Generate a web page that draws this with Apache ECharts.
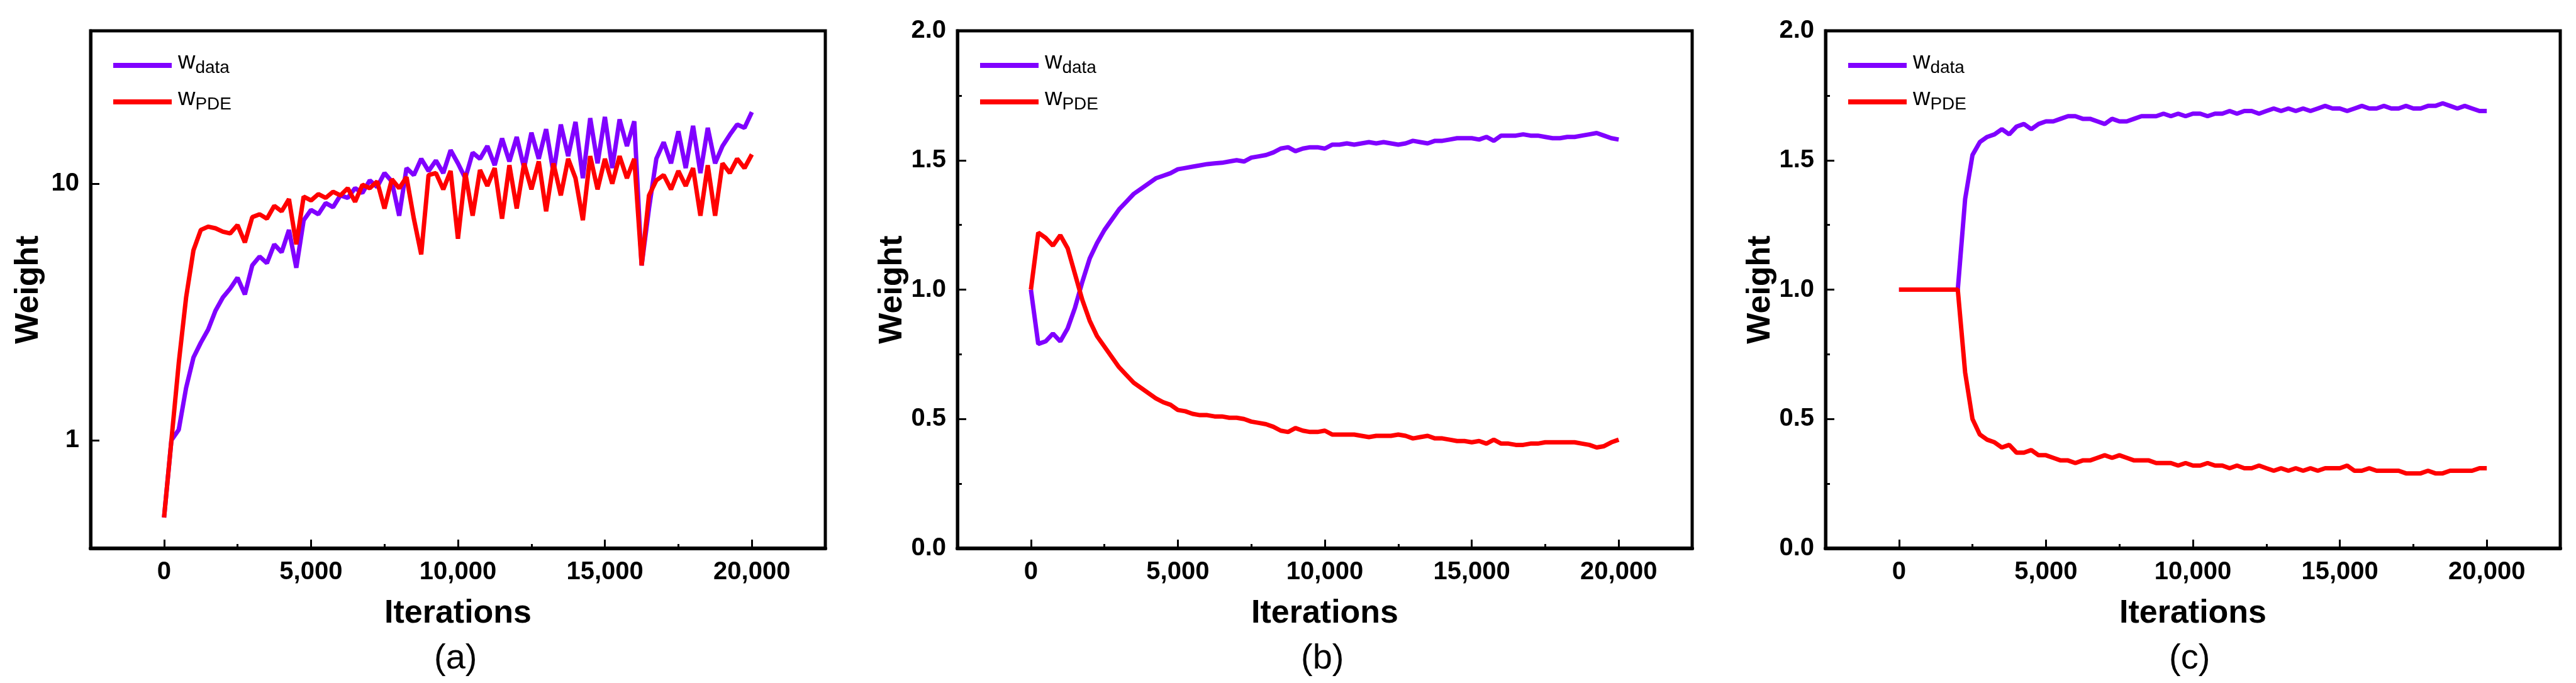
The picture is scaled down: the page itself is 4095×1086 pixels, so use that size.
<!DOCTYPE html>
<html>
<head>
<meta charset="utf-8">
<script src="https://cdn.jsdelivr.net/npm/echarts@6/dist/echarts.min.js"></script>
<style>
html,body{margin:0;padding:0;background:#fff}
#main{width:4095px;height:1086px}
</style>
</head>
<body>
<div id="main"></div>
<script>
// iterations, sampled every 250 steps
var iterations = [];
for (var i = 0; i <= 80; i++) iterations.push(i * 250);
var majorTicks = [0, 5000, 10000, 15000, 20000];
var minorTicks = [2500, 7500, 12500, 17500];

// (a) self-adaptive weights, log scale
var aData = [0.5,1.0,1.1,1.6,2.1,2.4,2.7,3.2,3.6,3.9,4.3,3.7,4.8,5.2,4.9,5.8,5.4,6.6,4.7,7.2,
  7.9,7.6,8.4,8.1,9.0,8.8,9.6,9.2,10.3,9.7,11.0,10.2,7.5,11.5,10.8,12.5,11.2,12.3,11.0,13.5,
  12.0,10.5,13.2,12.5,14.0,11.8,15.0,12.2,15.2,11.5,15.8,12.5,16.3,11.0,17.0,12.8,17.4,10.5,18.0,12.0,
  18.2,11.5,17.8,14.0,17.5,4.8,8.0,12.5,14.5,12.0,16.0,11.5,16.8,11.0,16.5,12.0,14.0,15.5,17.0,16.5,19.0];
var aPDE = [0.5,1.0,2.0,3.6,5.5,6.6,6.8,6.7,6.5,6.4,6.9,5.9,7.4,7.6,7.3,8.2,7.8,8.7,5.8,8.9,
  8.6,9.1,8.8,9.3,9.0,9.6,8.5,9.9,9.6,10.2,8.0,10.4,9.6,10.6,7.3,5.3,10.8,11.0,9.5,11.2,
  6.1,11.0,7.5,11.3,9.8,11.5,7.3,11.8,8.0,12.0,9.5,12.2,7.8,12.0,9.0,12.5,10.5,7.2,12.8,9.5,
  12.5,10.0,12.8,10.5,12.5,4.8,9.0,10.3,10.8,9.5,11.2,9.8,11.5,7.5,11.8,7.5,12.0,11.0,12.5,11.5,13.0];

// (b)
var bData = [1.0,0.79,0.80,0.83,0.80,0.85,0.93,1.03,1.12,1.18,1.23,1.27,1.31,1.34,1.37,1.39,1.41,1.43,1.44,1.45,
  1.465,1.47,1.475,1.48,1.485,1.488,1.49,1.495,1.50,1.495,1.51,1.515,1.52,1.53,1.545,1.55,1.535,1.545,1.55,1.55,
  1.545,1.56,1.56,1.565,1.56,1.565,1.57,1.565,1.57,1.565,1.56,1.565,1.575,1.57,1.565,1.575,1.575,1.58,1.585,1.585,
  1.585,1.58,1.59,1.575,1.595,1.595,1.595,1.6,1.595,1.595,1.59,1.585,1.585,1.59,1.59,1.595,1.6,1.605,1.595,1.585,1.58];
var bPDE = [1.0,1.22,1.20,1.17,1.21,1.16,1.06,0.96,0.88,0.82,0.78,0.74,0.70,0.67,0.64,0.62,0.60,0.58,0.565,0.555,
  0.535,0.53,0.52,0.515,0.515,0.51,0.51,0.505,0.505,0.50,0.49,0.485,0.48,0.47,0.455,0.45,0.465,0.455,0.45,0.45,
  0.455,0.44,0.44,0.44,0.44,0.435,0.43,0.435,0.435,0.435,0.44,0.435,0.425,0.43,0.435,0.425,0.425,0.42,0.415,0.415,
  0.41,0.415,0.405,0.42,0.405,0.405,0.40,0.40,0.405,0.405,0.41,0.41,0.41,0.41,0.41,0.405,0.40,0.39,0.395,0.41,0.42];

// (c)
var cData = [1.0,1.0,1.0,1.0,1.0,1.0,1.0,1.0,1.0,1.35,1.52,1.57,1.59,1.6,1.62,1.6,1.63,1.64,1.62,1.64,
  1.65,1.65,1.66,1.67,1.67,1.66,1.66,1.65,1.64,1.66,1.65,1.65,1.66,1.67,1.67,1.67,1.68,1.67,1.68,1.67,
  1.68,1.68,1.67,1.68,1.68,1.69,1.68,1.69,1.69,1.68,1.69,1.70,1.69,1.70,1.69,1.70,1.69,1.70,1.71,1.70,
  1.70,1.69,1.70,1.71,1.70,1.70,1.71,1.70,1.70,1.71,1.70,1.70,1.71,1.71,1.72,1.71,1.70,1.71,1.70,1.69,1.69];
var cPDE = [1.0,1.0,1.0,1.0,1.0,1.0,1.0,1.0,1.0,0.68,0.50,0.44,0.42,0.41,0.39,0.40,0.37,0.37,0.38,0.36,
  0.36,0.35,0.34,0.34,0.33,0.34,0.34,0.35,0.36,0.35,0.36,0.35,0.34,0.34,0.34,0.33,0.33,0.33,0.32,0.33,
  0.32,0.32,0.33,0.32,0.32,0.31,0.32,0.31,0.31,0.32,0.31,0.30,0.31,0.30,0.31,0.30,0.31,0.30,0.31,0.31,
  0.31,0.32,0.30,0.30,0.31,0.30,0.30,0.30,0.30,0.29,0.29,0.29,0.30,0.29,0.29,0.30,0.30,0.30,0.30,0.31,0.31];

var panelLabels = ['(a)', '(b)', '(c)'];
var gridLeft = [144, 1522, 2902];
var gridW = 1168;
var FONT = 'Liberation Sans';

function pairs(ys){
  return ys.map(function(v, k){ return [iterations[k], v]; });
}

var grids = [], xAxes = [], yAxes = [], series = [], graphics = [];
var all = [[aData, aPDE], [bData, bPDE], [cData, cPDE]];

for (var p = 0; p < 3; p++) {
  grids.push({left: gridLeft[p], top: 49, width: gridW, height: 823,
    show: true, borderColor: '#000', borderWidth: 5, backgroundColor: 'transparent'});
  xAxes.push({
    gridIndex: p, type: 'value', min: -2500, max: 22500, interval: 2500,
    name: 'Iterations', nameLocation: 'middle', nameGap: 78,
    nameTextStyle: {fontFamily: FONT, fontWeight: 'bold', fontSize: 52, color: '#000'},
    axisLine: {onZero: false, lineStyle: {color: '#000', width: 6}},
    axisTick: {inside: true, length: 14, customValues: majorTicks, lineStyle: {color: '#000', width: 3}},
    splitLine: {show: false},
    axisLabel: {fontFamily: FONT, fontWeight: 'bold', fontSize: 40, color: '#000', margin: 18,
      customValues: majorTicks,
      formatter: function(v){ return v.toLocaleString('en-US'); }}
  });
  // minor ticks on the bottom axis
  xAxes.push({
    gridIndex: p, type: 'value', min: -2500, max: 22500, position: 'bottom',
    axisLine: {show: false},
    axisTick: {inside: true, length: 7, customValues: minorTicks, lineStyle: {color: '#000', width: 3}},
    axisLabel: {show: false}, splitLine: {show: false}
  });
  var y = {
    gridIndex: p, name: 'Weight', nameLocation: 'middle', nameGap: 72, nameRotate: 90,
    nameTextStyle: {fontFamily: FONT, fontWeight: 'bold', fontSize: 52, color: '#000'},
    axisLine: {show: true, onZero: false, lineStyle: {color: '#000', width: 5}},
    axisTick: {show: true, inside: true, length: 14, lineStyle: {color: '#000', width: 3}},
    splitLine: {show: false},
    axisLabel: {fontFamily: FONT, fontWeight: 'bold', fontSize: 40, color: '#000', margin: 18}
  };
  if (p === 0) {
    y.type = 'log'; y.logBase = 10; y.min = 0.379; y.max = 39.4;
    y.axisTick.customValues = [1, 10];
    y.axisLabel.customValues = [1, 10];
    y.axisLabel.formatter = function(v){ return String(Math.round(v)); };
  } else {
    y.type = 'value'; y.min = 0; y.max = 2; y.interval = 0.5;
    y.minorTick = {show: true, splitNumber: 2, length: 7, lineStyle: {color: '#000', width: 3}};
    y.axisLabel.formatter = function(v){ return v.toFixed(1); };
  }
  yAxes.push(y);
  series.push({name: 'wdata', type: 'line', xAxisIndex: 2 * p, yAxisIndex: p, showSymbol: false,
    data: pairs(all[p][0]), lineStyle: {color: '#8000FF', width: 7}, itemStyle: {color: '#8000FF'}});
  series.push({name: 'wPDE', type: 'line', xAxisIndex: 2 * p, yAxisIndex: p, showSymbol: false,
    data: pairs(all[p][1]), lineStyle: {color: '#FF0000', width: 7}, itemStyle: {color: '#FF0000'}});
  graphics.push({type: 'text', left: gridLeft[p] + gridW / 2 - 38, top: 1020,
    style: {text: panelLabels[p], font: '56px ' + FONT, fill: '#000'}});

  // legend per panel
  var lx = gridLeft[p] + 36;
  graphics.push({type: 'line', shape: {x1: lx, y1: 104, x2: lx + 93, y2: 104}, style: {stroke: '#8000FF', lineWidth: 8}});
  graphics.push({type: 'line', shape: {x1: lx, y1: 162, x2: lx + 93, y2: 162}, style: {stroke: '#FF0000', lineWidth: 8}});
  graphics.push({type: 'text', left: lx + 103, top: 80, style: {
    text: '{a|w}{b|data}', rich: {a: {fontFamily: FONT, fontSize: 38, fill: '#000'}, b: {fontFamily: FONT, fontSize: 28, fill: '#000', padding: [18, 0, 0, 0]}}}});
  graphics.push({type: 'text', left: lx + 103, top: 138, style: {
    text: '{a|w}{b|PDE}', rich: {a: {fontFamily: FONT, fontSize: 38, fill: '#000'}, b: {fontFamily: FONT, fontSize: 28, fill: '#000', padding: [18, 0, 0, 0]}}}});
}

var chart = echarts.init(document.getElementById('main'));
chart.setOption({
  animation: false,
  backgroundColor: '#fff',
  grid: grids, xAxis: xAxes, yAxis: yAxes, series: series, graphic: graphics
});
</script>
</body>
</html>
